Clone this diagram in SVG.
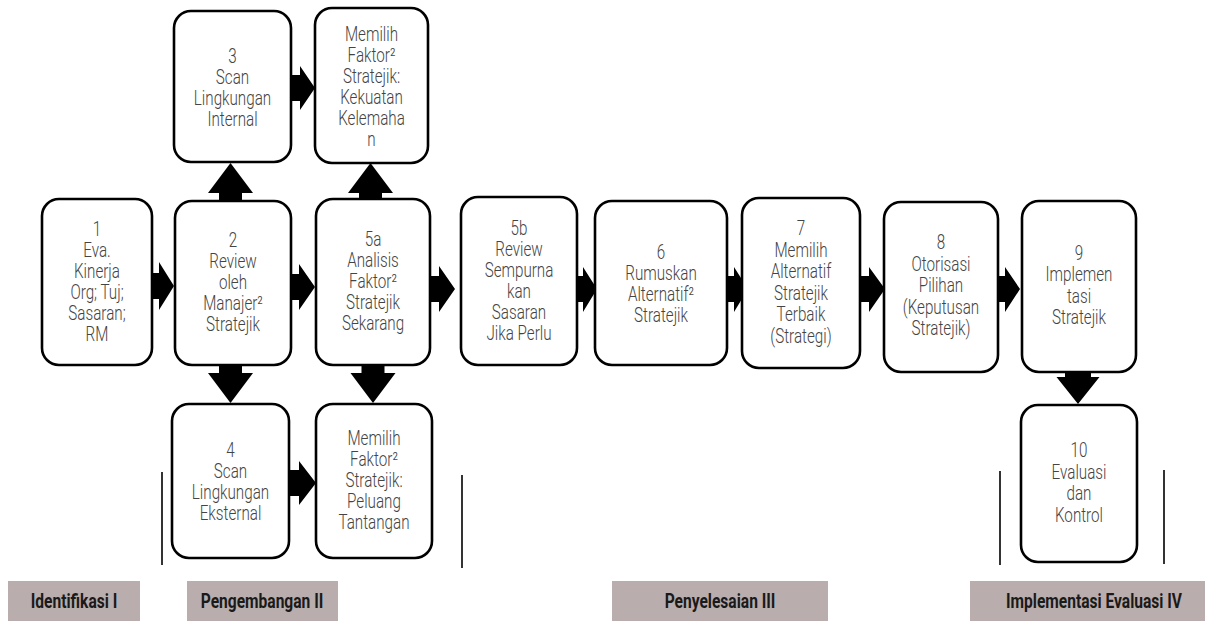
<svg xmlns="http://www.w3.org/2000/svg" width="1205" height="621" viewBox="0 0 1205 621">
<style>
.box{fill:#fff;stroke:#000;stroke-width:2.6}
.t{font-family:Roboto,"Liberation Sans",sans-serif;font-weight:300;font-size:19.5px;fill:#444;text-anchor:middle}
.arr{fill:#000}
.sep{stroke:#000;stroke-width:1.6}
.lab{fill:#b9adad}
.lt{font-family:Roboto,"Liberation Sans",sans-serif;font-weight:700;font-size:20.5px;fill:#1a1a1a;text-anchor:middle}
</style>
<rect width="1205" height="621" fill="#fff"/>
<g id="connectors">
<path class="arr" d="M152 273H159V262L174 286L159 310V299H152Z"/>
<path class="arr" d="M291 274H299V264L315 287L299 310V300H291Z"/>
<path class="arr" d="M430 276H439V266L455 289L439 312V302H430Z"/>
<path class="arr" d="M577 276H583V267L597 289L583 312V302H577Z"/>
<path class="arr" d="M727 276H734V267L748 289L734 312V302H727Z"/>
<path class="arr" d="M860 276H869V267L885 289L869 312V302H860Z"/>
<path class="arr" d="M998 276H1005V267L1020 289L1005 312V302H998Z"/>
<path class="arr" d="M291 75H300V66L315 88L300 110V101H291Z"/>
<path class="arr" d="M289 470H299V461L316 483L299 505V496H289Z"/>
<path class="arr" d="M219 201V193H208L230.5 163L253 193H242V201Z"/>
<path class="arr" d="M359 199V193H348L370.5 163L393 193H382V199Z"/>
<path class="arr" d="M219 365V373H208L230.5 403L253 373H242V365Z"/>
<path class="arr" d="M361.5 365V373H350.5L373 403L395.5 373H384.5V365Z"/>
<path class="arr" d="M1065 372V377H1056.5L1078 404L1099.5 377H1091V372Z"/>
</g>
<g id="n1"><rect class="box" x="42" y="199" width="110" height="166" rx="17"/>
<text class="t" transform="translate(97 0) scale(0.78 1)"><tspan x="0" y="236">1</tspan><tspan x="0" y="257">Eva.</tspan><tspan x="0" y="278">Kinerja</tspan><tspan x="0" y="299">Org; Tuj;</tspan><tspan x="0" y="320">Sasaran;</tspan><tspan x="0" y="341">RM</tspan></text></g>
<g id="n2"><rect class="box" x="175" y="201" width="116" height="164" rx="17"/>
<text class="t" transform="translate(233 0) scale(0.78 1)"><tspan x="0" y="247.5">2</tspan><tspan x="0" y="268.5">Review</tspan><tspan x="0" y="289.5">oleh</tspan><tspan x="0" y="310.5">Manajer²</tspan><tspan x="0" y="331.5">Stratejik</tspan></text></g>
<g id="n3"><rect class="box" x="174" y="11" width="117" height="151" rx="17"/>
<text class="t" transform="translate(232.5 0) scale(0.78 1)"><tspan x="0" y="63">3</tspan><tspan x="0" y="84">Scan</tspan><tspan x="0" y="105">Lingkungan</tspan><tspan x="0" y="126">Internal</tspan></text></g>
<g id="n3b"><rect class="box" x="315" y="8" width="113" height="155" rx="17"/>
<text class="t" transform="translate(371.5 0) scale(0.78 1)"><tspan x="0" y="41">Memilih</tspan><tspan x="0" y="62">Faktor²</tspan><tspan x="0" y="83">Stratejik:</tspan><tspan x="0" y="104">Kekuatan</tspan><tspan x="0" y="125">Kelemaha</tspan><tspan x="0" y="146">n</tspan></text></g>
<g id="n4"><rect class="box" x="172" y="404" width="117" height="154" rx="17"/>
<text class="t" transform="translate(230.5 0) scale(0.78 1)"><tspan x="0" y="457">4</tspan><tspan x="0" y="478">Scan</tspan><tspan x="0" y="499">Lingkungan</tspan><tspan x="0" y="520">Eksternal</tspan></text></g>
<g id="n4b"><rect class="box" x="316" y="404" width="116" height="154" rx="17"/>
<text class="t" transform="translate(374 0) scale(0.78 1)"><tspan x="0" y="445.5">Memilih</tspan><tspan x="0" y="466.5">Faktor²</tspan><tspan x="0" y="487.5">Stratejik:</tspan><tspan x="0" y="508.5">Peluang</tspan><tspan x="0" y="529.5">Tantangan</tspan></text></g>
<g id="n5a"><rect class="box" x="316" y="199" width="114" height="166" rx="17"/>
<text class="t" transform="translate(373 0) scale(0.78 1)"><tspan x="0" y="246.5">5a</tspan><tspan x="0" y="267.5">Analisis</tspan><tspan x="0" y="288.5">Faktor²</tspan><tspan x="0" y="309.5">Stratejik</tspan><tspan x="0" y="330.5">Sekarang</tspan></text></g>
<g id="n5b"><rect class="box" x="461" y="197" width="116" height="168" rx="17"/>
<text class="t" transform="translate(519 0) scale(0.78 1)"><tspan x="0" y="235">5b</tspan><tspan x="0" y="256">Review</tspan><tspan x="0" y="277">Sempurna</tspan><tspan x="0" y="298">kan</tspan><tspan x="0" y="319">Sasaran</tspan><tspan x="0" y="340">Jika Perlu</tspan></text></g>
<g id="n6"><rect class="box" x="595" y="201" width="132" height="164" rx="17"/>
<text class="t" transform="translate(661 0) scale(0.78 1)"><tspan x="0" y="259">6</tspan><tspan x="0" y="280">Rumuskan</tspan><tspan x="0" y="301">Alternatif²</tspan><tspan x="0" y="322">Stratejik</tspan></text></g>
<g id="n7"><rect class="box" x="742" y="198" width="118" height="170" rx="17"/>
<text class="t" transform="translate(801 0) scale(0.78 1)"><tspan x="0" y="235.5">7</tspan><tspan x="0" y="257">Memilih</tspan><tspan x="0" y="278.5">Alternatif</tspan><tspan x="0" y="300">Stratejik</tspan><tspan x="0" y="321.5">Terbaik</tspan><tspan x="0" y="343">(Strategi)</tspan></text></g>
<g id="n8"><rect class="box" x="884" y="202" width="114" height="170" rx="17"/>
<text class="t" transform="translate(941 0) scale(0.78 1)"><tspan x="0" y="249.5">8</tspan><tspan x="0" y="271">Otorisasi</tspan><tspan x="0" y="292.5">Pilihan</tspan><tspan x="0" y="314">(Keputusan</tspan><tspan x="0" y="335.5">Stratejik)</tspan></text></g>
<g id="n9"><rect class="box" x="1022" y="201" width="114" height="171" rx="17"/>
<text class="t" transform="translate(1079 0) scale(0.78 1)"><tspan x="0" y="260">9</tspan><tspan x="0" y="281.5">Implemen</tspan><tspan x="0" y="303">tasi</tspan><tspan x="0" y="324.5">Stratejik</tspan></text></g>
<g id="n10"><rect class="box" x="1021" y="405" width="116" height="157" rx="17"/>
<text class="t" transform="translate(1079 0) scale(0.78 1)"><tspan x="0" y="457.5">10</tspan><tspan x="0" y="479">Evaluasi</tspan><tspan x="0" y="500.5">dan</tspan><tspan x="0" y="522">Kontrol</tspan></text></g>
<g id="separators">
<line class="sep" x1="162" y1="472" x2="162" y2="565"/>
<line class="sep" x1="462" y1="475" x2="462" y2="568"/>
<line class="sep" x1="1000" y1="471" x2="1000" y2="565"/>
<line class="sep" x1="1164" y1="470" x2="1164" y2="564"/>
</g>
<g id="phase1"><rect class="lab" x="8" y="581" width="132" height="40"/><text class="lt" transform="translate(74 0) scale(0.76 1)" x="0" y="608.5">Identifikasi I</text></g>
<g id="phase2"><rect class="lab" x="187" y="581" width="151" height="40"/><text class="lt" transform="translate(262 0) scale(0.76 1)" x="0" y="608.5">Pengembangan II</text></g>
<g id="phase3"><rect class="lab" x="612" y="581" width="216" height="40"/><text class="lt" transform="translate(720 0) scale(0.76 1)" x="0" y="608.5">Penyelesaian III</text></g>
<g id="phase4"><rect class="lab" x="970" y="581" width="235" height="40"/><text class="lt" transform="translate(1094 0) scale(0.76 1)" x="0" y="608.5">Implementasi Evaluasi IV</text></g>
</svg>
